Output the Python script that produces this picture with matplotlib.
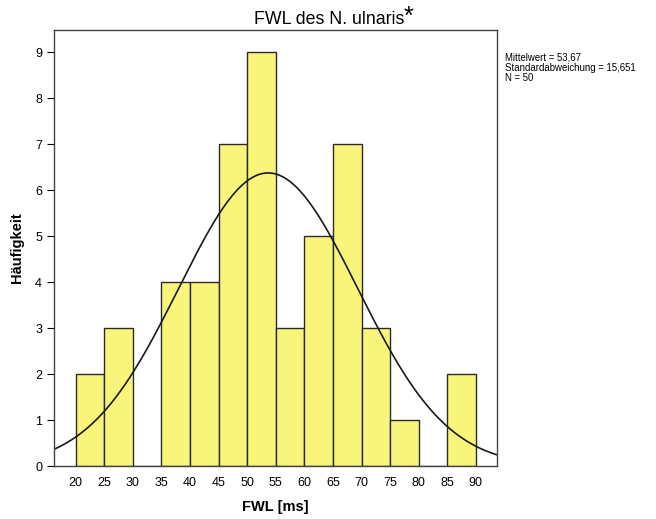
import numpy as np
import matplotlib
matplotlib.use("Agg")
import matplotlib.pyplot as plt

# histogram bins (5 ms wide) and counts
bin_edges = [20, 25, 30, 35, 40, 45, 50, 55, 60, 65, 70, 75, 80, 85, 90]
counts = [2, 3, 0, 4, 4, 7, 9, 3, 5, 7, 3, 1, 0, 2]
x_ticks = [20, 25, 30, 35, 40, 45, 50, 55, 60, 65, 70, 75, 80, 85, 90]
y_ticks = [0, 1, 2, 3, 4, 5, 6, 7, 8, 9]

mean_val = 53.67
sd_val = 15.651
n_val = 50

plt.rcParams['font.family'] = ['Liberation Sans', 'DejaVu Sans']

fig = plt.figure(figsize=(6.56, 5.19), dpi=100)
ax = fig.add_axes([0.0823, 0.1021, 0.6753, 0.8401])

lefts = bin_edges[:-1]
widths = np.diff(bin_edges)
ax.bar(lefts, counts, width=widths, align='edge', color='#f9f57a',
       edgecolor='#2a2a2a', linewidth=1.0)

# normal curve from the reported statistics
xs = np.linspace(16.2, 93.7, 300)
bw = 5
ys = n_val * bw / (sd_val * np.sqrt(2 * np.pi)) * np.exp(-0.5 * ((xs - mean_val) / sd_val) ** 2)
ax.plot(xs, ys, color='#1a1a1a', linewidth=1.2)

ax.set_xlim(16.2, 93.7)
ax.set_ylim(0, 9.48)
ax.set_xticks(x_ticks)
ax.set_yticks(y_ticks)
ax.tick_params(axis='x', length=0, labelsize=9, pad=8)
ax.tick_params(axis='y', length=5, labelsize=9, direction='out')
for s in ax.spines.values():
    s.set_color('#444444')
    s.set_linewidth(1.0)

ax.set_ylabel('Häufigkeit', fontsize=10.5, fontweight='bold', labelpad=8)
ax.set_xlabel('FWL [ms]', fontsize=10.5, fontweight='bold', labelpad=8)

# title with a large raised asterisk
fig.text(329 / 656, 1 - 24 / 519, 'FWL des N. ulnaris', ha='center', va='baseline',
         fontsize=12.8)
fig.text(404 / 656, 1 - 24 / 519, '*', ha='left', va='baseline', fontsize=18)

fig.text(0.77, 0.898, 'Mittelwert = 53,67\nStandardabweichung = 15,651\nN = 50',
         ha='left', va='top', fontsize=6.9, linespacing=1.0,
         family=['Liberation Sans Narrow', 'Liberation Sans'])

fig.savefig('out.png', dpi=100)
